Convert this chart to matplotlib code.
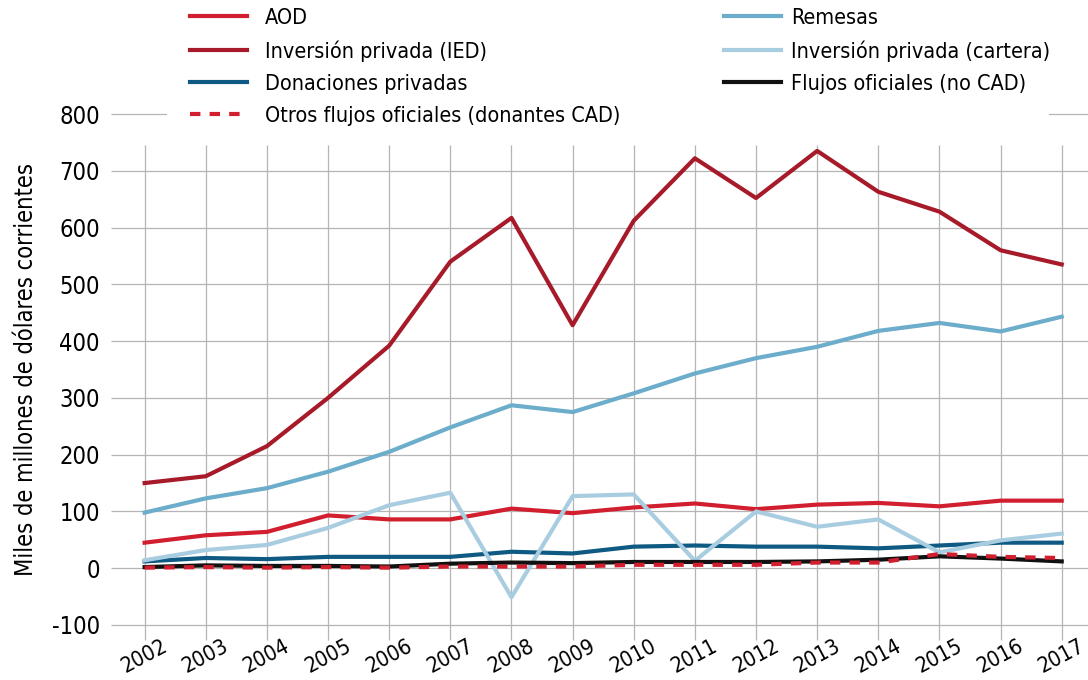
import matplotlib
matplotlib.use("Agg")
import matplotlib.pyplot as plt
from matplotlib.patches import Rectangle

plt.rcParams['font.family'] = ['DejaVu Sans Condensed', 'DejaVu Sans']
plt.rcParams['font.stretch'] = 'condensed'
plt.rcParams['axes.unicode_minus'] = False

years = list(range(2002, 2018))

aod = [45, 58, 64, 93, 86, 86, 105, 97, 107, 114, 104, 112, 115, 109, 119, 119]
ied = [150, 162, 215, 300, 392, 540, 617, 428, 612, 722, 652, 735, 663, 628, 560, 535]
donaciones = [12, 18, 16, 20, 20, 20, 29, 26, 38, 40, 38, 38, 35, 40, 45, 45]
otros_cad = [1, 2, 1, 2, 1, 3, 3, 3, 6, 6, 6, 10, 10, 25, 20, 18]
remesas = [98, 123, 141, 170, 205, 248, 287, 275, 308, 343, 370, 390, 418, 432, 417, 443]
cartera = [14, 32, 41, 71, 111, 133, -51, 127, 130, 13, 100, 73, 86, 28, 49, 61]
oficiales_no_cad = [2, 5, 4, 4, 3, 8, 10, 9, 11, 11, 11, 12, 15, 21, 17, 12]
yticks = list(range(-100, 801, 100))

c_aod = '#d21f2f'
c_ied = '#a71a2a'
c_don = '#0f5a82'
c_rem = '#6badca'
c_car = '#a9cde0'
c_blk = '#111111'
c_grid = '#b5b5b5'

W, H = 1088, 680
fig = plt.figure(figsize=(W / 100, H / 100), dpi=100)
ax = fig.add_axes([111 / W, 55 / H, 1 - 111 / W, 511 / H])

lw = 3.0
h_ied, = ax.plot(years, ied, color=c_ied, lw=lw, label='Inversión privada (IED)')
h_rem, = ax.plot(years, remesas, color=c_rem, lw=lw, label='Remesas')
h_aod, = ax.plot(years, aod, color=c_aod, lw=lw, label='AOD')
h_don, = ax.plot(years, donaciones, color=c_don, lw=lw, label='Donaciones privadas')
h_car, = ax.plot(years, cartera, color=c_car, lw=lw, label='Inversión privada (cartera)')
h_blk, = ax.plot(years, oficiales_no_cad, color=c_blk, lw=lw, label='Flujos oficiales (no CAD)')
h_otr, = ax.plot(years, otros_cad, color=c_aod, lw=lw, ls=(0, (2.5, 2.2)),
                 label='Otros flujos oficiales (donantes CAD)')

x0, x1 = 2001.45, 2017.43
ax.set_xlim(x0, x1)
ax.set_ylim(-100, 800)
ax.set_yticks(yticks)
ax.set_xticks(years)
ax.set_xticklabels([str(y) for y in years], rotation=28, ha='center', fontsize=15.5)
ax.tick_params(axis='y', length=0, pad=8, labelsize=17)
ax.tick_params(axis='x', length=0, pad=8)
# grid drawn by hand: horizontal lines unclipped, vertical ones stop short of the top
ax.hlines(yticks, x0, x1, color=c_grid, lw=0.9, zorder=0.5, clip_on=False)
ax.vlines(years, -127, 745, color=c_grid, lw=0.9, zorder=0.5, clip_on=False)
for s in ax.spines.values():
    s.set_visible(False)

ax.set_ylabel('Miles de millones de dólares corrientes', fontsize=17, labelpad=10)

# white band behind the legend hides the 800 line
fig.patches.append(Rectangle((167 / W, 1 - 128 / H), (1049 - 167) / W, 24 / H,
                             transform=fig.transFigure, facecolor='white',
                             edgecolor='none', zorder=2))

left = [h_aod, h_ied, h_don, h_otr]
right = [h_rem, h_car, h_blk]
kw = dict(loc='upper left', fontsize=15.5, frameon=False, handlelength=2.65,
          labelspacing=0.56, borderpad=0, borderaxespad=0)
leg1 = fig.legend(handles=left, labels=[h.get_label() for h in left],
                  bbox_to_anchor=(190 / W, 1 - 8 / H), handletextpad=0.85, **kw)
leg2 = fig.legend(handles=right, labels=[h.get_label() for h in right],
                  bbox_to_anchor=(724 / W, 1 - 8 / H), handletextpad=0.45, **kw)

fig.savefig('out.png', dpi=100)
